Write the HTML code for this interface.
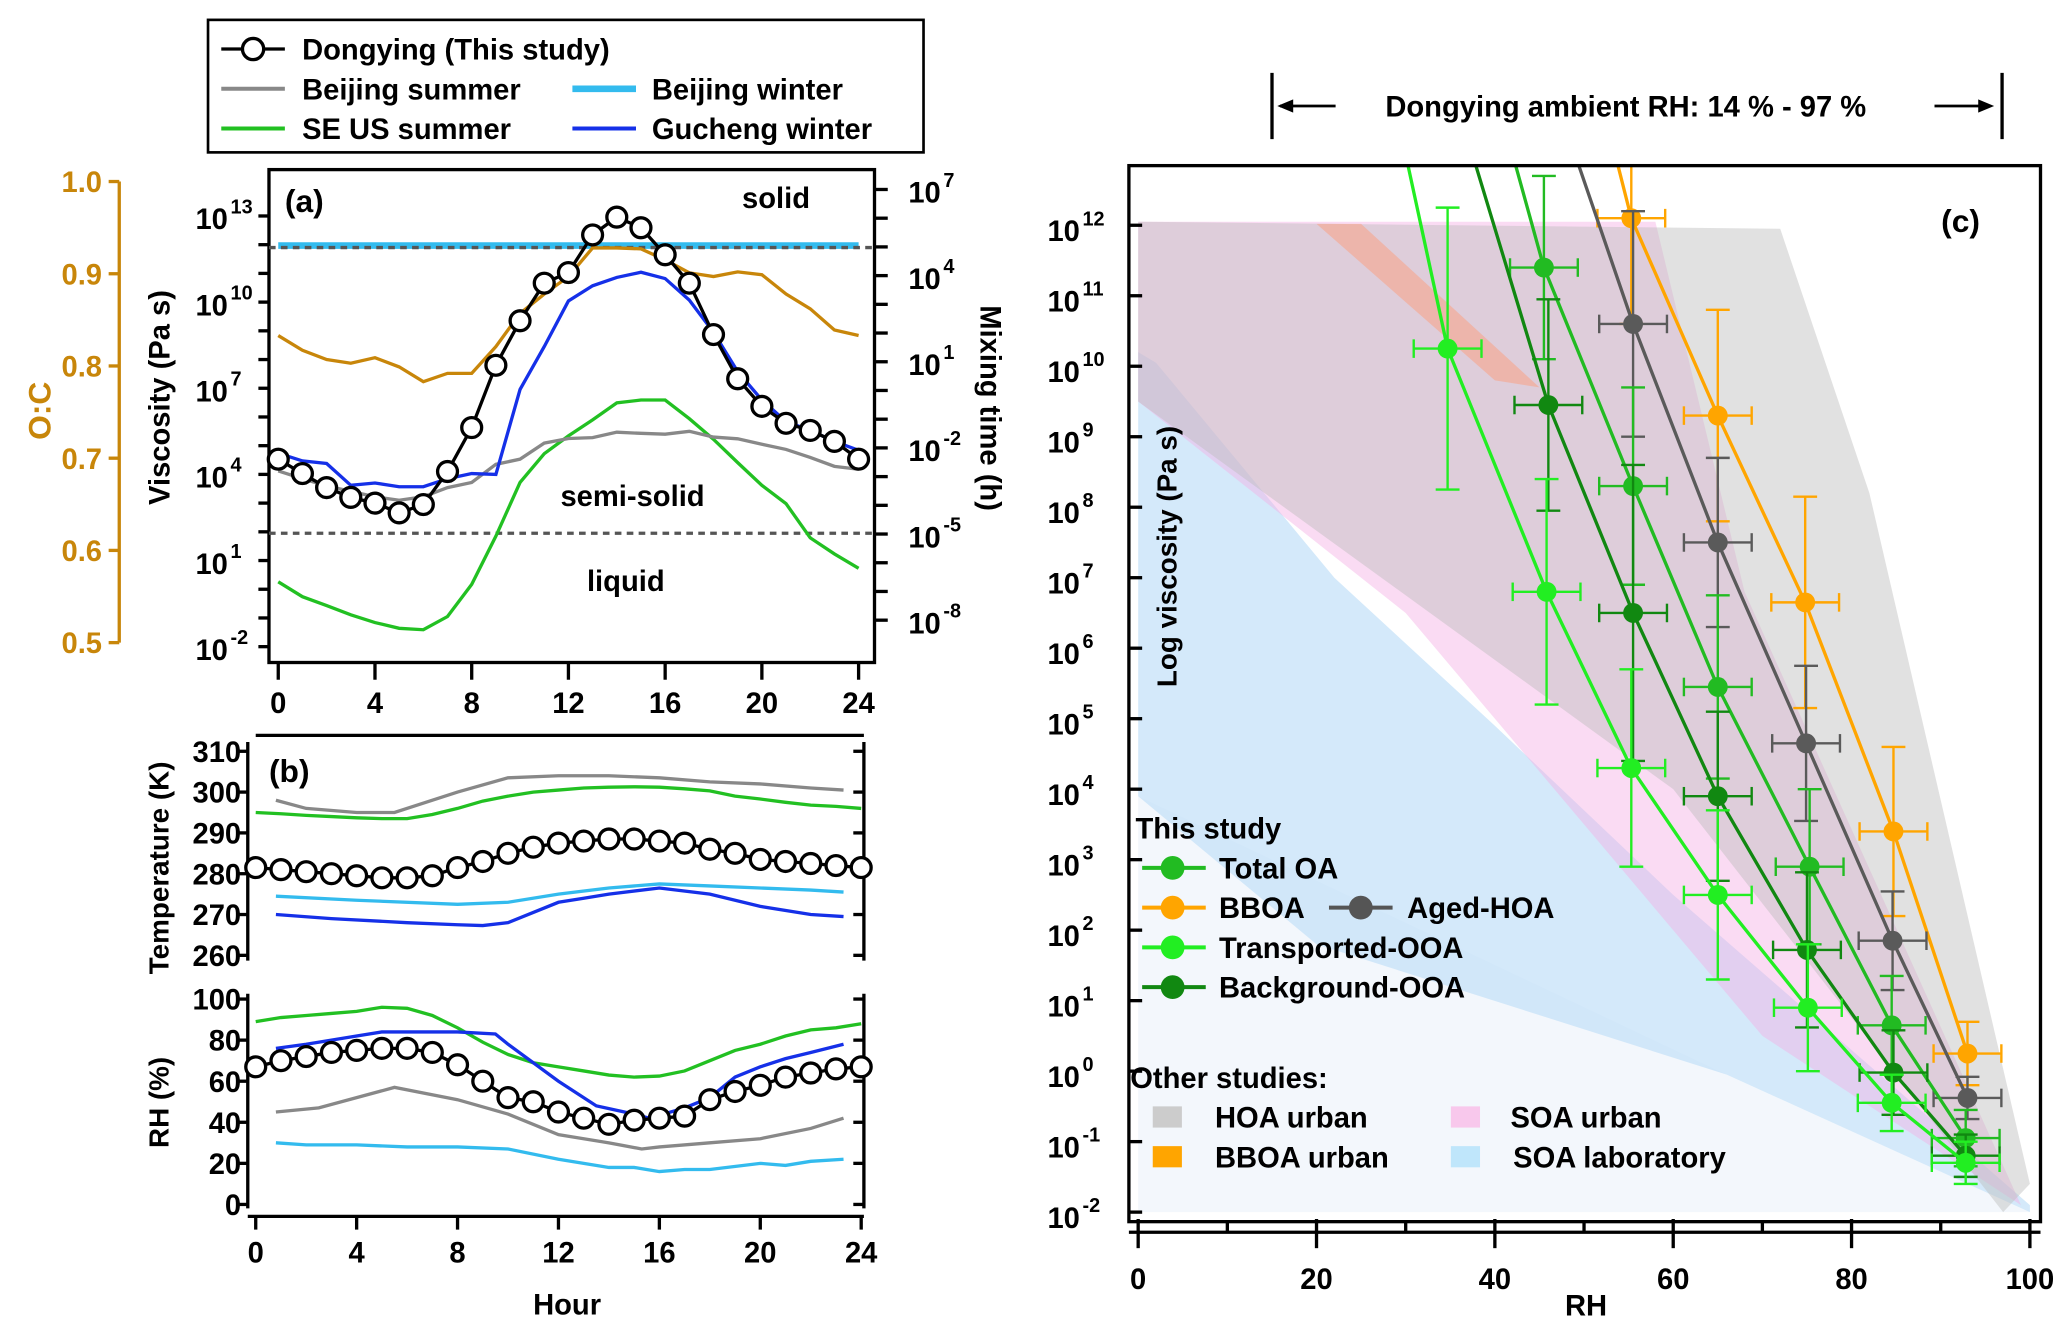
<!DOCTYPE html>
<html><head><meta charset="utf-8">
<style>
html,body{margin:0;padding:0;background:#fff;}
svg{display:block;font-family:"Liberation Sans",sans-serif;font-weight:bold;}
</style></head>
<body>
<svg id="fig" width="2067" height="1327" viewBox="0 0 1560 1001.5" preserveAspectRatio="none" xmlns="http://www.w3.org/2000/svg">
<rect x="0" y="0" width="1560" height="1002" fill="#fff"/>
<g>
<rect x="157" y="15" width="540" height="100" fill="#fff" stroke="#000" stroke-width="2"/>
<line x1="167" y1="37" x2="215" y2="37" stroke="#000" stroke-width="2.5"/>
<circle cx="191" cy="37" r="8" fill="#fff" stroke="#000" stroke-width="2.5"/>
<text x="228" y="45" font-size="22">Dongying (This study)</text>
<line x1="167" y1="67" x2="215" y2="67" stroke="#888" stroke-width="3"/>
<text x="228" y="75" font-size="22">Beijing summer</text>
<line x1="432" y1="67" x2="480" y2="67" stroke="#33bbee" stroke-width="5"/>
<text x="492" y="75" font-size="22">Beijing winter</text>
<line x1="167" y1="97" x2="215" y2="97" stroke="#22c022" stroke-width="3"/>
<text x="228" y="105" font-size="22">SE US summer</text>
<line x1="432" y1="97" x2="480" y2="97" stroke="#1530e8" stroke-width="3"/>
<text x="492" y="105" font-size="22">Gucheng winter</text>
</g>
<rect x="203" y="128" width="457" height="372" fill="none" stroke="#000" stroke-width="2.5"/>
<text x="215" y="160" font-size="24">(a)</text>
<text x="560" y="157" font-size="22">solid</text>
<text x="423" y="382" font-size="22">semi-solid</text>
<text x="443" y="446" font-size="22">liquid</text>
<text transform="translate(128,300) rotate(-90)" text-anchor="middle" font-size="22">Viscosity (Pa s)</text>
<text transform="translate(38,310) rotate(-90)" text-anchor="middle" font-size="24" fill="#c8860a">O:C</text>
<text transform="translate(740,308) rotate(90)" text-anchor="middle" font-size="22">Mixing time (h)</text>
<text x="203" y="590" font-size="24">(b)</text>
<text transform="translate(127,655) rotate(-90)" text-anchor="middle" font-size="21">Temperature (K)</text>
<text transform="translate(127,832) rotate(-90)" text-anchor="middle" font-size="21">RH (%)</text>
<text x="428" y="992" text-anchor="middle" font-size="22">Hour</text>
<g>
<line x1="960" y1="55" x2="960" y2="105" stroke="#000" stroke-width="2.5"/>
<line x1="1511" y1="55" x2="1511" y2="105" stroke="#000" stroke-width="2.5"/>
<line x1="966" y1="80" x2="1008" y2="80" stroke="#000" stroke-width="2"/>
<polygon points="964,80 976,75 976,85" fill="#000"/>
<line x1="1460" y1="80" x2="1500" y2="80" stroke="#000" stroke-width="2"/>
<polygon points="1505,80 1493,75 1493,85" fill="#000"/>
<text x="1227" y="88" text-anchor="middle" font-size="22">Dongying ambient RH: 14 % - 97 %</text>
</g>
<g id="cshade"></g>
<g id="cmarks"></g>
<rect x="852" y="125" width="688" height="797" fill="none" stroke="#000" stroke-width="2.5"/>
<text x="1465" y="175" font-size="24">(c)</text>
<text transform="translate(888,420) rotate(-90)" text-anchor="middle" font-size="21">Log viscosity (Pa s)</text>
<text x="1197" y="993" text-anchor="middle" font-size="22">RH</text>
<g font-size="22">
<text x="857" y="633">This study</text>
<line x1="862" y1="655" x2="910" y2="655" stroke="#22bb22" stroke-width="3"/><circle cx="885" cy="655" r="9" fill="#22bb22"/>
<text x="920" y="663">Total OA</text>
<line x1="862" y1="685" x2="910" y2="685" stroke="#ffa500" stroke-width="3"/><circle cx="885" cy="685" r="9" fill="#ffa500"/>
<text x="920" y="693">BBOA</text>
<line x1="1003" y1="685" x2="1051" y2="685" stroke="#555" stroke-width="3"/><circle cx="1027" cy="685" r="9" fill="#555"/>
<text x="1062" y="693">Aged-HOA</text>
<line x1="862" y1="715" x2="910" y2="715" stroke="#22ee22" stroke-width="3"/><circle cx="885" cy="715" r="9" fill="#22ee22"/>
<text x="920" y="723">Transported-OOA</text>
<line x1="862" y1="745" x2="910" y2="745" stroke="#118811" stroke-width="3"/><circle cx="885" cy="745" r="9" fill="#118811"/>
<text x="920" y="753">Background-OOA</text>
<text x="853" y="821">Other studies:</text>
<rect x="870" y="835" width="22" height="16" fill="#cccccc"/><text x="917" y="851">HOA urban</text>
<rect x="870" y="865" width="22" height="16" fill="#ffa500"/><text x="917" y="881">BBOA urban</text>
<rect x="1095" y="835" width="22" height="16" fill="#f8c8ec"/><text x="1140" y="851">SOA urban</text>
<rect x="1095" y="865" width="22" height="16" fill="#bfe6fb"/><text x="1142" y="881">SOA laboratory</text>
</g>
<g id="dyn"></g>
</svg>
<script>
// ---------- Panel (a) data ----------
const hours = [0,1,2,3,4,5,6,7,8,9,10,11,12,13,14,15,16,17,18,19,20,21,22,23,24];
const dongyingVisc = [4.53,4.03,3.54,3.2,3.0,2.66,2.95,4.1,5.63,7.8,9.35,10.66,11.03,12.34,12.96,12.59,11.65,10.66,8.87,7.33,6.37,5.78,5.53,5.15,4.53];
const guchengVisc = [4.74,4.47,4.38,3.62,3.7,3.57,3.57,3.85,4.03,4.0,6.96,8.45,10.04,10.57,10.86,11.04,10.82,10.07,8.95,7.58,6.59,5.84,5.53,5.15,4.84];
const beijingSummerVisc = [4.12,3.85,3.6,3.41,3.22,3.1,3.22,3.54,3.72,4.35,4.53,5.09,5.25,5.28,5.47,5.43,5.4,5.5,5.3,5.24,5.05,4.87,4.59,4.28,4.18];
const seusVisc = [0.26,-0.26,-0.57,-0.89,-1.16,-1.36,-1.41,-0.95,0.17,1.85,3.72,4.72,5.34,5.9,6.49,6.59,6.59,5.94,5.22,4.41,3.62,2.98,1.79,1.23,0.73];
const beijingWinterVisc = 11.97;
const solidThreshold = 11.9;
const liquidThreshold = 1.95;
const ocValues = [0.833,0.817,0.807,0.803,0.809,0.799,0.783,0.792,0.792,0.821,0.857,0.878,0.897,0.928,0.928,0.927,0.915,0.901,0.897,0.902,0.899,0.878,0.862,0.839,0.833];
const hourTicks = [0,4,8,12,16,20,24];
const viscTickExp = [-2,1,4,7,10,13];
const mixTickExp = [-8,-5,-2,1,4,7];
const ocTicks = [0.5,0.6,0.7,0.8,0.9,1.0];
// ---------- Panel (b) data ----------
const tBeijingSummerH = [0.8,2,4,5.5,8,10,12,14,16,18,20,22,23.3];
const tBeijingSummer = [298,296,295,295,300,303.5,304,304,303.5,302.5,302,301,300.5];
const tSeus = [295,294.7,294.3,294,293.7,293.5,293.5,294.5,296,297.8,299,300,300.5,301,301.2,301.3,301.2,300.8,300.3,299,298.3,297.5,296.8,296.5,296];
const tDongying = [281.5,281,280.5,280,279.5,279,279,279.5,281.5,283,285,286.5,287.5,288,288.5,288.5,288,287.5,286,285,283.5,283,282.5,282,281.5];
const tBeijingWinterH = [0.8,4,8,10,12,14,16,18,20,22,23.3];
const tBeijingWinter = [274.5,273.5,272.5,273,275,276.5,277.5,277,276.5,276,275.5];
const tGuchengH = [0.8,3,6,8,9,10,12,13,14,16,18,20,22,23.3];
const tGucheng = [270,269,268,267.5,267.3,268,273,274,275,276.5,275,272,270,269.5];
const rhSeus = [89,91,92,93,94,96,95.5,92,86,79,73,69,67,65,63,62,62.5,65,70,75,78,82,85,86,88];
const rhGuchengH = [0.8,2,3,4,5,6,8,9.5,10,12,13.5,15,15.6,17,18,19,20,21,22,23.3];
const rhGucheng = [76,78,80,82,84,84,84,83,78,60,48,44,42,47,52,62,67,71,74,78];
const rhDongying = [67,70,72,74,75,76,76,74,68,60,52,50,45,42,39,41,42,43,51,55,58,62,64,66,67];
const rhBeijingSummerH = [0.8,2.5,5.5,8,10,12,14,15.3,16,18,20,22,23.3];
const rhBeijingSummer = [45,47,57,51,44,34,30,27,28,30,32,37,42];
const rhBeijingWinterH = [0.8,2,4,6,8,10,12,14,15,16,17,18,20,21,22,23.3];
const rhBeijingWinter = [30,29,29,28,28,27,22,18,18,16,17,17,20,19,21,22];
const tTicks = [260,270,280,290,300,310];
const rhTicks = [0,20,40,60,80,100];
// ---------- Panel (c) data ----------
const rhCTicks = [0,20,40,60,80,100];
const logCTicks = [-2,-1,0,1,2,3,4,5,6,7,8,9,10,11,12];
const totalRH = [42,45.5,55.5,65,75.3,84.5,92.8];
const totalLog = [13,11.4,8.3,5.45,2.9,0.65,-0.95];
const totalErr = [0,1.3,1.4,1.3,1.1,0.7,0.4];
const bboaRH = [53.5,55.3,65,74.8,84.7,93];
const bboaLog = [13,12.1,9.3,6.65,3.4,0.25];
const bboaErr = [0,1.5,1.5,1.5,1.2,0.45];
const agedRH = [49,55.5,65,74.9,84.6,93];
const agedLog = [13,10.6,7.5,4.65,1.85,-0.38];
const agedErr = [0,1.6,1.2,1.1,0.7,0.3];
const transRH = [30,34.7,45.8,55.3,65,75.1,84.5,92.8];
const transLog = [13,10.25,6.8,4.3,2.5,0.9,-0.45,-1.3];
const transErr = [0,2,1.6,1.4,1.2,0.9,0.4,0.3];
const bgRH = [37.5,46,55.5,65,75,84.7,92.8];
const bgLog = [13,9.45,6.5,3.9,1.72,-0.02,-1.2];
const bgErr = [0,1.5,2.1,1.2,1.1,0.6,0.3];
const hoaUrbanRH = [0,72,82,100,97,60,0];
const hoaUrbanLog = [12.05,11.95,8.2,-1.6,-2,4,9.5];
const soaUrbanRH = [0,58,68,99,70,50,30,0];
const soaUrbanLog = [12.05,12.05,6.8,-1.9,0.5,3.5,6.5,9.5];
const bboaUrbanRH = [20,25,45,40];
const bboaUrbanLog = [12.02,12.02,9.7,9.8];
const soaLabRH = [0,2,22,40,60,80,100,100,66,20,0];
const soaLabLog = [10.2,10.05,7,4.9,2.5,0.3,-1.9,-2,-0.05,1.8,3.9];
const soaLabLowRH = [0,66,100,0];
const soaLabLowLog = [3.9,-0.05,-2,-2];

// ---------- scales ----------
const xA = h => 210 + h*18.25;
const yV = l => 163 + (13-l)*21.67;
const yMix = l => 143 + (7-l)*21.67;
const yOC = v => 137 + (1-v)*696;
const xB = h => 193 + h*19.04;
const yT = t => 567 + (310-t)*3.08;
const yRH = r => 754 + (100-r)*1.55;
const xC = r => 859 + r*6.73;
const yC = l => 170 + (12-l)*53.2;

const NS = 'http://www.w3.org/2000/svg';
const dyn = document.getElementById('dyn');
const cshade = document.getElementById('cshade');
const cmarks = document.getElementById('cmarks');
function mk(tag, attrs, parent){ const e=document.createElementNS(NS,tag); for(const k in attrs) e.setAttribute(k,attrs[k]); (parent||dyn).appendChild(e); return e; }
function pts(xs, ys, fx, fy){ return xs.map((x,i)=>fx(x)+','+fy(ys[i])).join(' '); }
function supLabel(x,y,exp){
  const t = mk('text',{x:x,y:y,'font-size':22,'text-anchor':'end'});
  
  
  t.textContent='10';
  const s = mk('text',{x:x+2,y:y-12,'font-size':15,'text-anchor':'start'});
  
  
  s.textContent=String(exp);
  return t;
}

// ---------- Panel (a) axes ----------
for(let e=-2;e<=13;e++){
  const tk=mk('line',{x1:195,x2:203,y1:yV(e),y2:yV(e),stroke:'#000','stroke-width':2.5});
  
  
}
viscTickExp.forEach(e=>{ supLabel(172,yV(e)+10,e); });
for(let e=-8;e<=7;e++){
  const tk=mk('line',{x1:660,x2:670,y1:yMix(e),y2:yMix(e),stroke:'#000','stroke-width':2.5});
  
  
}
mixTickExp.forEach(e=>{ supLabel(710,yMix(e)+10,e); });
hourTicks.forEach(h=>{
  const tk=mk('line',{x1:xA(h),x2:xA(h),y1:500,y2:513,stroke:'#000','stroke-width':2.5});
  
  
  const t=mk('text',{x:xA(h),y:538,'font-size':22,'text-anchor':'middle'});
  
  
  t.textContent=h;
});
const ocAxis=mk('line',{x1:90,x2:90,y1:yOC(1),y2:yOC(0.5),stroke:'#c8860a','stroke-width':2.5});


ocTicks.forEach(v=>{
  const tk=mk('line',{x1:82,x2:90,y1:yOC(v),y2:yOC(v),stroke:'#c8860a','stroke-width':2.5});
  
  
  const t=mk('text',{x:77,y:yOC(v)+8,'font-size':22,'text-anchor':'end',fill:'#c8860a'});
  
  
  t.textContent=v.toFixed(1);
});
// ---------- Panel (a) series ----------
const bw=mk('line',{x1:xA(0),x2:xA(24),y1:yV(beijingWinterVisc),y2:yV(beijingWinterVisc),stroke:'#33bbee','stroke-width':5});


const d1=mk('line',{x1:203,x2:660,y1:yV(solidThreshold),y2:yV(solidThreshold),stroke:'#555','stroke-width':2.5,'stroke-dasharray':'5,4'});


const d2=mk('line',{x1:203,x2:660,y1:yV(liquidThreshold),y2:yV(liquidThreshold),stroke:'#555','stroke-width':2.5,'stroke-dasharray':'5,4'});


const ocl=mk('polyline',{points:pts(hours,ocValues,xA,yOC),fill:'none',stroke:'#c8860a','stroke-width':2.5});


const sl=mk('polyline',{points:pts(hours,seusVisc,xA,yV),fill:'none',stroke:'#22c022','stroke-width':2.5});


const bsl=mk('polyline',{points:pts(hours,beijingSummerVisc,xA,yV),fill:'none',stroke:'#888','stroke-width':2.5});


const gl=mk('polyline',{points:pts(hours,guchengVisc,xA,yV),fill:'none',stroke:'#1530e8','stroke-width':2.5});


const dl=mk('polyline',{points:pts(hours,dongyingVisc,xA,yV),fill:'none',stroke:'#000','stroke-width':2.5});


hours.forEach((h,i)=>{
  const c=mk('circle',{cx:xA(h),cy:yV(dongyingVisc[i]),r:7.5,fill:'#fff',stroke:'#000','stroke-width':2.5});
  
  
});
// ---------- Panel (b) axes ----------
const frameB=[[193,555,652,555],[187,560,187,725],[652,560,652,725],[187,750,187,912],[652,750,652,912],[187,918,652,918]];
frameB.forEach(f=>{
  const l=mk('line',{x1:f[0],y1:f[1],x2:f[2],y2:f[3],stroke:'#000','stroke-width':2.5});
  
  
});
tTicks.forEach(t=>{
  const a=mk('line',{x1:179,x2:187,y1:yT(t),y2:yT(t),stroke:'#000','stroke-width':2.5});
  
  
  const b=mk('line',{x1:644,x2:652,y1:yT(t),y2:yT(t),stroke:'#000','stroke-width':2.5});
  
  
  const tx=mk('text',{x:182,y:yT(t)+8,'font-size':22,'text-anchor':'end'});
  
  
  tx.textContent=t;
});
rhTicks.forEach(r=>{
  const a=mk('line',{x1:179,x2:187,y1:yRH(r),y2:yRH(r),stroke:'#000','stroke-width':2.5});
  
  
  const b=mk('line',{x1:644,x2:652,y1:yRH(r),y2:yRH(r),stroke:'#000','stroke-width':2.5});
  
  
  const tx=mk('text',{x:182,y:yRH(r)+8,'font-size':22,'text-anchor':'end'});
  
  
  tx.textContent=r;
});
hourTicks.forEach(h=>{
  const tk=mk('line',{x1:xB(h),x2:xB(h),y1:918,y2:928,stroke:'#000','stroke-width':2.5});
  
  
  const t=mk('text',{x:xB(h),y:953,'font-size':22,'text-anchor':'middle'});
  
  
  t.textContent=h;
});
// ---------- Panel (b) series ----------
function lineB(xs,ys,fy,color,name){
  const l=mk('polyline',{points:pts(xs,ys,xB,fy),fill:'none',stroke:color,'stroke-width':2.5});
  
  
}
lineB(tBeijingSummerH,tBeijingSummer,yT,'#888','beijing-summer-temperature-line');
lineB(hours,tSeus,yT,'#22c022','seus-summer-temperature-line');
lineB(tBeijingWinterH,tBeijingWinter,yT,'#33bbee','beijing-winter-temperature-line');
lineB(tGuchengH,tGucheng,yT,'#1530e8','gucheng-winter-temperature-line');
lineB(hours,tDongying,yT,'#000','dongying-temperature-line');
hours.forEach((h,i)=>{
  const c=mk('circle',{cx:xB(h),cy:yT(tDongying[i]),r:7.5,fill:'#fff',stroke:'#000','stroke-width':2.5});
  
  
});
lineB(rhBeijingSummerH,rhBeijingSummer,yRH,'#888','beijing-summer-rh-line');
lineB(rhBeijingWinterH,rhBeijingWinter,yRH,'#33bbee','beijing-winter-rh-line');
lineB(hours,rhSeus,yRH,'#22c022','seus-summer-rh-line');
lineB(rhGuchengH,rhGucheng,yRH,'#1530e8','gucheng-winter-rh-line');
lineB(hours,rhDongying,yRH,'#000','dongying-rh-line');
hours.forEach((h,i)=>{
  const c=mk('circle',{cx:xB(h),cy:yRH(rhDongying[i]),r:7.5,fill:'#fff',stroke:'#000','stroke-width':2.5});
  
  
});
// ---------- Panel (c) ----------
function shade(xs,ys,color,op,name){
  const p=mk('polygon',{points:pts(xs,ys,xC,yC),fill:color,'fill-opacity':op,stroke:'none'},cshade);
  
  
}
shade(soaLabLowRH,soaLabLowLog,'#f3f7fc',1,'soa-laboratory-lower-region');
shade(soaLabRH,soaLabLog,'#c6e2f8',0.75,'soa-laboratory-region');
shade(soaUrbanRH,soaUrbanLog,'#f4b0e4',0.45,'soa-urban-region');
shade(hoaUrbanRH,hoaUrbanLog,'#bdbdbd',0.45,'hoa-urban-region');
shade(bboaUrbanRH,bboaUrbanLog,'#ff9a70',0.45,'bboa-urban-region');
const defs=mk('defs',{},document.getElementById('fig'));
const cp=mk('clipPath',{id:'cclip'},defs);
mk('rect',{x:852,y:125,width:688,height:797},cp);
cmarks.setAttribute('clip-path','url(#cclip)');
cshade.setAttribute('clip-path','url(#cclip)');
function seriesC(xs,ys,errs,color,name){
  const l=mk('polyline',{points:pts(xs,ys,xC,yC),fill:'none',stroke:color,'stroke-width':2.5},cmarks);
  
  
  xs.forEach((x,i)=>{
    if(i===0) return;
    const cx=xC(x), cy=yC(ys[i]);
    const e1=mk('line',{x1:cx,x2:cx,y1:yC(ys[i]+errs[i]),y2:yC(ys[i]-errs[i]),stroke:color,'stroke-width':1.8},cmarks);
    
    
    [ys[i]+errs[i],ys[i]-errs[i]].forEach(v=>{ mk('line',{x1:cx-9,x2:cx+9,y1:yC(v),y2:yC(v),stroke:color,'stroke-width':1.8},cmarks); });
    mk('line',{x1:xC(x-3.8),x2:xC(x+3.8),y1:cy,y2:cy,stroke:color,'stroke-width':1.8},cmarks);
    mk('line',{x1:xC(x-3.8),x2:xC(x-3.8),y1:cy-7,y2:cy+7,stroke:color,'stroke-width':1.8},cmarks);
    mk('line',{x1:xC(x+3.8),x2:xC(x+3.8),y1:cy-7,y2:cy+7,stroke:color,'stroke-width':1.8},cmarks);
    const c=mk('circle',{cx:cx,cy:cy,r:7.5,fill:color},cmarks);
    
    
  });
}
seriesC(bboaRH,bboaLog,bboaErr,'#ffa500','bboa');
seriesC(agedRH,agedLog,agedErr,'#5a5a5a','aged-hoa');
seriesC(totalRH,totalLog,totalErr,'#22bb22','total-oa');
seriesC(bgRH,bgLog,bgErr,'#118811','background-ooa');
seriesC(transRH,transLog,transErr,'#22ee22','transported-ooa');
logCTicks.forEach(e=>{
  const tk=mk('line',{x1:852,x2:862,y1:yC(e),y2:yC(e),stroke:'#000','stroke-width':2.5});
  
  
  supLabel(815,yC(e)+12,e);
});
const xaxC=mk('line',{x1:852,x2:1540,y1:930,y2:930,stroke:'#000','stroke-width':2.5});


for(let r=0;r<=100;r+=10){
  const tk=mk('line',{x1:xC(r),x2:xC(r),y1:r%20===0?920:922,y2:r%20===0?942:930,stroke:'#000','stroke-width':2.5});
  
  
}
rhCTicks.forEach(r=>{
  const t=mk('text',{x:xC(r),y:973,'font-size':22,'text-anchor':'middle'});
  
  
  t.textContent=r;
});
</script>
</body></html>
